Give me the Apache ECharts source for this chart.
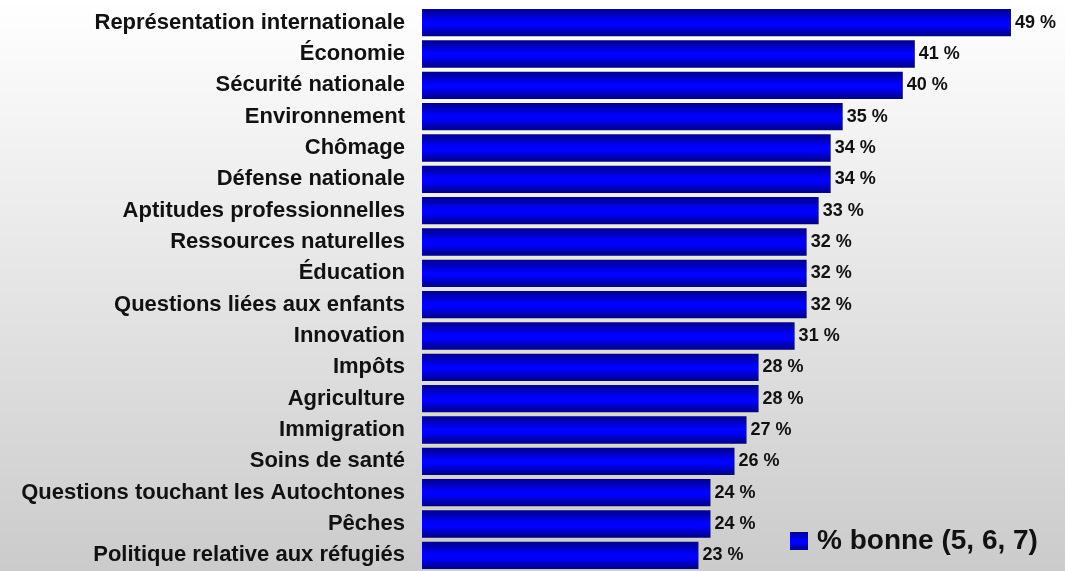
<!DOCTYPE html>
<html><head><meta charset="utf-8">
<script src="https://cdn.jsdelivr.net/npm/echarts@6/dist/echarts.min.js"></script>
<style>html,body{margin:0;padding:0;}#c{width:1065px;height:571px;}</style>
</head><body><div id="c"></div>
<script>
const categories = ["Représentation internationale","Économie","Sécurité nationale","Environnement","Chômage","Défense nationale","Aptitudes professionnelles","Ressources naturelles","Éducation","Questions liées aux enfants","Innovation","Impôts","Agriculture","Immigration","Soins de santé","Questions touchant les Autochtones","Pêches","Politique relative aux réfugiés"];
const values = [49,41,40,35,34,34,33,32,32,32,31,28,28,27,26,24,24,23];
const seriesName = "% bonne (5, 6, 7)";

const chart = echarts.init(document.getElementById('c'));
const barGrad = new echarts.graphic.LinearGradient(0,0,0,1,[
  {offset:0,color:'#000088'},{offset:0.45,color:'#0000ff'},{offset:0.6,color:'#0000ff'},{offset:1,color:'#000080'}]);
chart.setOption({
  backgroundColor: new echarts.graphic.LinearGradient(0,0,0,1,[{offset:0,color:'#ffffff'},{offset:1,color:'#cbcbcb'}]),
  animation:false,
  grid:{left:422,top:7,width:601,height:569,containLabel:false},
  xAxis:{type:'value',min:0,max:50,show:false},
  yAxis:{type:'category',data:categories,inverse:true,
    axisLine:{show:false},axisTick:{show:false},splitLine:{show:false},
    axisLabel:{margin:17,fontFamily:'Liberation Sans, Arial, sans-serif',fontWeight:'bold',fontSize:22,color:'#111'}},
  legend:{show:true,left:785,top:522,itemWidth:18,itemHeight:18,itemGap:6,
    textStyle:{fontFamily:'Liberation Sans, Arial, sans-serif',fontWeight:'bold',fontSize:28,color:'#111',padding:[0,0,0,4]},
    data:[{name:seriesName,icon:'rect'}]},
  series:[{name:seriesName,type:'bar',data:values,barCategoryGap:'13%',
    itemStyle:{color:barGrad},
    label:{show:true,position:'right',distance:4,formatter:'{c} %',
      fontFamily:'Liberation Sans, Arial, sans-serif',fontWeight:'bold',fontSize:18,color:'#111'}}]
});
</script></body></html>
